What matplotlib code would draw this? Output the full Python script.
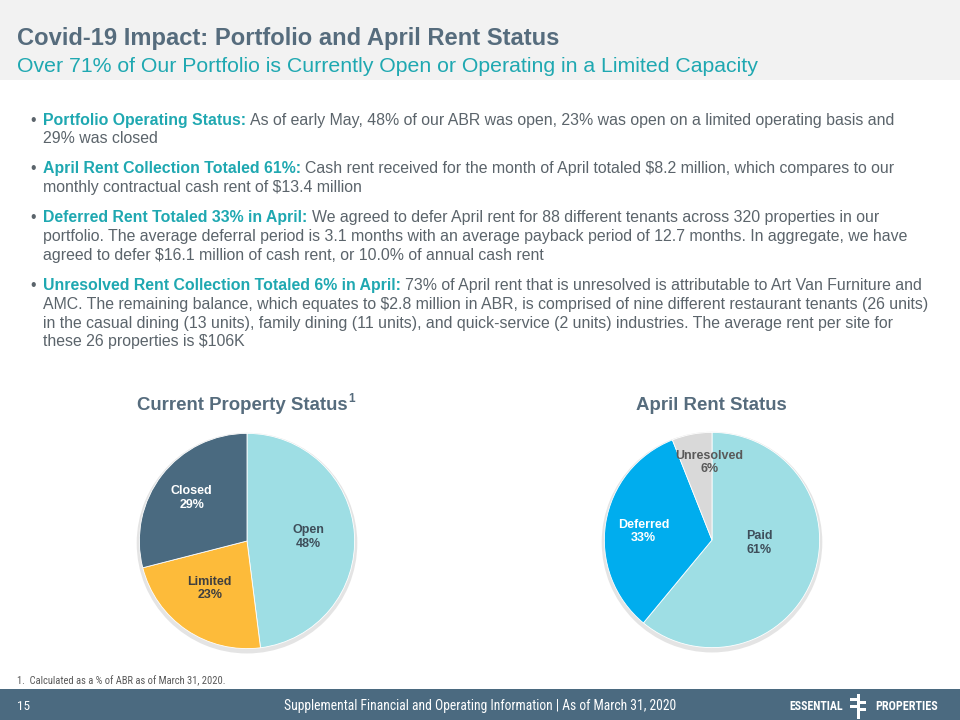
import matplotlib
matplotlib.use('Agg')
import matplotlib.pyplot as plt
from matplotlib.patches import Rectangle
from matplotlib.font_manager import FontProperties
import numpy as np

# ---------------- data ----------------
status_labels = ['Open', 'Limited', 'Closed']
status_values = [48, 23, 29]
rent_labels = ['Paid', 'Deferred', 'Unresolved']
rent_values = [61, 33, 6]

title = "Covid-19 Impact: Portfolio and April Rent Status"
subtitle = "Over 71% of Our Portfolio is Currently Open or Operating in a Limited Capacity"
bullets = [
    ("Portfolio Operating Status:",
     ["As of early May, 48% of our ABR was open, 23% was open on a limited operating basis and",
      "29% was closed"]),
    ("April Rent Collection Totaled 61%:",
     ["Cash rent received for the month of April totaled $8.2 million, which compares to our",
      "monthly contractual cash rent of $13.4 million"]),
    ("Deferred Rent Totaled 33% in April:",
     ["We agreed to defer April rent for 88 different tenants across 320 properties in our",
      "portfolio. The average deferral period is 3.1 months with an average payback period of 12.7 months. In aggregate, we have",
      "agreed to defer $16.1 million of cash rent, or 10.0% of annual cash rent"]),
    ("Unresolved Rent Collection Totaled 6% in April:",
     ["73% of April rent that is unresolved is attributable to Art Van Furniture and",
      "AMC. The remaining balance, which equates to $2.8 million in ABR, is comprised of nine different restaurant tenants (26 units)",
      "in the casual dining (13 units), family dining (11 units), and quick-service (2 units) industries. The average rent per site for",
      "these 26 properties is $106K"]),
]
footnote = "1.  Calculated as a % of ABR as of March 31, 2020."
footer_text = "Supplemental Financial and Operating Information | As of March 31, 2020"
page_no = "15"
pie_titles = ["Current Property Status", "April Rent Status"]

# ---------------- style ----------------
C_TITLE = '#566C7D'
C_TEAL = '#1FA8B1'
C_BODY = '#5B646B'
C_FOOT = '#4B6A80'
status_colors = ['#9EDEE4', '#FDBB3A', '#4A6A80']
rent_colors = ['#9EDEE4', '#00ADEE', '#D9D9D9']
status_text = ['#3E4E5A', '#3F3F3F', 'white']
rent_text = ['#3E4E5A', 'white', '#595959']

W, H = 960, 720
fig = plt.figure(figsize=(9.6, 7.2), dpi=100)
fig.patch.set_facecolor('white')
renderer = fig.canvas.get_renderer()
SANS = ['Liberation Sans', 'DejaVu Sans']
NARROW = ['Liberation Sans Narrow', 'Roboto Condensed', 'DejaVu Sans']


def fx(x):
    return x / W


def fy(y):
    return 1 - y / H


def rect(x0, y0, x1, y1, color, z=0):
    fig.add_artist(Rectangle((fx(x0), fy(y1)), (x1 - x0) / W, (y1 - y0) / H,
                             transform=fig.transFigure, color=color, lw=0, zorder=z))


def text(x, y, s, size, color, weight='normal', ha='left', family=SANS, fit=None,
         stretch='normal'):
    t = fig.text(fx(x), fy(y), s, fontsize=size, color=color, fontweight=weight,
                 ha=ha, va='center', family=family, fontstretch=stretch)
    if fit:
        w = t.get_window_extent(renderer).width
        t.set_fontsize(size * fit / w)
    return t


def advance(s, size, weight, family=SANS):
    fp = FontProperties(family=family, size=size, weight=weight)
    w1, _, _ = renderer.get_text_width_height_descent(s + '|', fp, ismath=False)
    w2, _, _ = renderer.get_text_width_height_descent('|', fp, ismath=False)
    return w1 - w2


# header band
rect(0, 0, W, 80, '#F2F2F2')
text(17, 38, title, 15, C_TITLE, weight='bold', fit=545)
text(17, 66, subtitle, 13, C_TEAL, fit=740)

# bullets
ref = text(-2000, -2000, bullets[3][1][1], 10, C_BODY)
bsize = 10 * 887 / ref.get_window_extent(renderer).width
ref.remove()

y = 120
line_h = 18.9
for head, lines in bullets:
    text(30, y, '\u2022', bsize, C_BODY)
    text(43, y, head, bsize, C_TEAL, weight='bold')
    xa = 43 + advance(head + ' ', bsize, 'bold')
    text(xa, y, lines[0], bsize, C_BODY)
    for ln in lines[1:]:
        y += line_h
        text(43, y, ln, bsize, C_BODY)
    y += line_h + 11


# pies
def draw_pie(cx, cy, r, values, labels, colors, tcolors, lab_r, lab_dt):
    ax = fig.add_axes([(cx - r) / W, 1 - (cy + r) / H, 2 * r / W, 2 * r / H])
    # subtle shadow
    ax.pie([1], radius=1.025, colors=['#E4E4E4'], center=(0.0, -0.02),
           wedgeprops=dict(linewidth=0))
    ax.pie(values, colors=colors, startangle=90, counterclock=False,
           radius=1, wedgeprops=dict(linewidth=0.6, edgecolor='white'))
    total = sum(values)
    cum = 0
    for v, lab, tc, rr, dt in zip(values, labels, tcolors, lab_r, lab_dt):
        mid = 90 - (cum + v / 2) / total * 360 + dt
        cum += v
        a = np.deg2rad(mid)
        ax.text(rr * np.cos(a), rr * np.sin(a), f"{lab}\n{v}%", ha='center', va='center',
                color=tc, fontsize=9, fontweight='bold', family=SANS, linespacing=1.15)
    ax.set_xlim(-1.05, 1.05)
    ax.set_ylim(-1.05, 1.05)
    ax.set_aspect('equal')
    ax.axis('off')


draw_pie(247, 541, 113, status_values, status_labels, status_colors, status_text,
         [0.57, 0.56, 0.65], [0, -4, 0])
draw_pie(712, 540, 113, rent_values, rent_labels, rent_colors, rent_text,
         [0.44, 0.64, 0.72], [16, 2, -9])

t1 = text(137, 405, pie_titles[0], 13.4, C_TITLE, weight='bold')
w1 = t1.get_window_extent(renderer)
text(137 + w1.width + 1, 399, "1", 8.5, C_TITLE, weight='bold')
text(711, 405, pie_titles[1], 13.4, C_TITLE, weight='bold', ha='center')

# footnote
text(17, 681, footnote, 6, '#595959', family=NARROW, stretch='condensed', fit=210)

# footer
rect(0, 689, W, H, C_FOOT)
text(17, 706, page_no, 9.5, 'white', family=NARROW, stretch='condensed')
text(480, 706, footer_text, 9.5, 'white', ha='center', family=NARROW,
     stretch='condensed', fit=396)
text(789, 706, "ESSENTIAL", 10, 'white', weight='bold', family=NARROW,
     stretch='condensed', fit=54)
text(875, 706, "PROPERTIES", 10, 'white', weight='bold', family=NARROW,
     stretch='condensed', fit=63)
rect(857, 694, 860, 719, 'white', 3)
for yy in (698, 705):
    rect(850, yy, 858, yy + 2.5, 'white', 3)
for yy in (701, 708):
    rect(859, yy, 866, yy + 2.5, 'white', 3)

fig.savefig('out.png', dpi=100, facecolor='white')
